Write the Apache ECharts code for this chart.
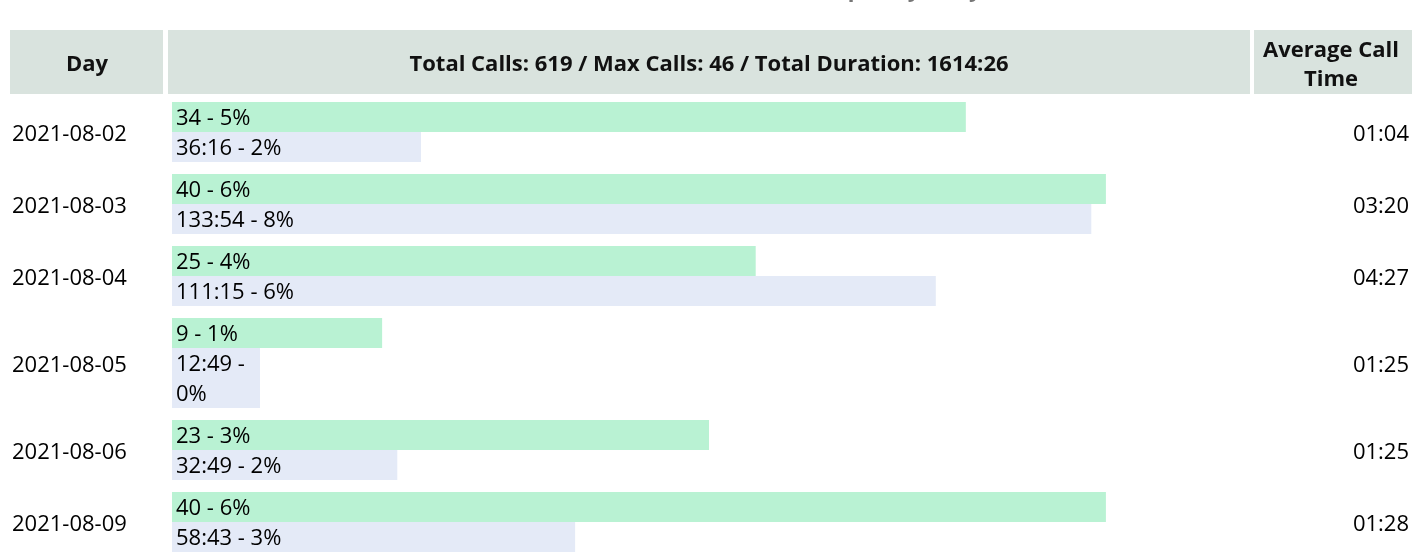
<!DOCTYPE html>
<html><head><meta charset="utf-8">
<script src="https://cdn.jsdelivr.net/npm/echarts@6/dist/echarts.min.js"></script>
<style>html,body{margin:0;padding:0;background:#fff}#c{width:1412px;height:556px}</style>
</head><body><div id="c"></div>
<script>
// ---- data ----
const titleText = 'Call Frequency Daily';
const headerLabels = ['Day', 'Total Calls: 619 / Max Calls: 46 / Total Duration: 1614:26', 'Average Call\nTime'];
const days = ['2021-08-02', '2021-08-03', '2021-08-04', '2021-08-05', '2021-08-06', '2021-08-09'];
const calls = [34, 40, 25, 9, 23, 40];
const callPct = [5, 6, 4, 1, 3, 6];
const durations = ['36:16', '133:54', '111:15', '12:49', '32:49', '58:43'];
const durationPct = [2, 8, 6, 0, 2, 3];
const avgCallTime = ['01:04', '03:20', '04:27', '01:25', '01:25', '01:28'];
const maxCalls = 46;
const maxDuration = '156:26';

// ---- layout / style ----
const FONT_SIZE = 22, FONT_FAMILY = "'Open Sans'", LINE_H = 30, ROW_GAP = 12, PAD = 4, TEXT_DY = 2;
const GRID_LEFT = 172, GRID_W = 1074, GRID_TOP = 102, GRID_H = 454;
const GREEN = '#b9f2d3', BLUE = '#e4eaf7', HEAD = '#d9e3de', INK = '#000';

function toSec(s) { const p = s.split(':').map(Number); return p[0] * 60 + p[1]; }
const durSec = durations.map(toSec);
const maxSec = toSec(maxDuration);

const mctx = document.createElement('canvas').getContext('2d');
mctx.font = FONT_SIZE + 'px ' + FONT_FAMILY;
function wrap(text, maxW) {
  const words = text.split(' '); const lines = []; let cur = '';
  for (const w of words) {
    const t = cur ? cur + ' ' + w : w;
    if (!cur || mctx.measureText(t).width <= maxW) cur = t; else { lines.push(cur); cur = w; }
  }
  if (cur) lines.push(cur);
  return lines;
}
const callLabels = calls.map((v, i) => [v + ' - ' + callPct[i] + '%']);
const durLabels = durations.map((d, i) => wrap(d + ' - ' + durationPct[i] + '%', durSec[i] / maxSec * GRID_W - 2 * PAD));

const tops = []; let acc = 0;
for (let i = 0; i < days.length; i++) {
  tops.push(acc);
  acc += (callLabels[i].length + durLabels[i].length) * LINE_H + ROW_GAP;
}

function barRenderer(color, labels) {
  return function (params, api) {
    const i = params.dataIndex;
    const v = api.value(0), top = api.value(1), n = api.value(2);
    const a = api.coord([0, top]);
    const b = api.coord([v, top + n * LINE_H]);
    return {
      type: 'group', children: [
        { type: 'rect', shape: { x: a[0], y: a[1], width: b[0] - a[0], height: b[1] - a[1] }, style: { fill: color } },
        { type: 'text', style: { x: a[0] + PAD, y: a[1] + TEXT_DY, text: labels[i].join('\n'), fontSize: FONT_SIZE, fontFamily: FONT_FAMILY, fill: INK, verticalAlign: 'top', lineHeight: LINE_H } }
      ]
    };
  };
}

function sideRenderer(params, api) {
  const i = params.dataIndex;
  const top = api.value(1), n = api.value(2);
  const a = api.coord([0, top]);
  const b = api.coord([0, top + n * LINE_H]);
  const cy = (a[1] + b[1]) / 2 + TEXT_DY + 1;
  return {
    type: 'group', children: [
      { type: 'text', style: { x: 12, y: cy, text: days[i], fontSize: FONT_SIZE, fontFamily: FONT_FAMILY, fill: INK, verticalAlign: 'middle', align: 'left' } },
      { type: 'text', style: { x: 1409, y: cy, text: avgCallTime[i], fontSize: FONT_SIZE, fontFamily: FONT_FAMILY, fill: INK, verticalAlign: 'middle', align: 'right' } }
    ]
  };
}

const chart = echarts.init(document.getElementById('c'), null, { renderer: 'canvas' });
const headFont = { fontSize: 22, fontFamily: FONT_FAMILY, fontWeight: 'bold', fill: '#111' };
chart.setOption({
  animation: false,
  backgroundColor: '#fff',
  grid: { left: GRID_LEFT, top: GRID_TOP, width: GRID_W, height: GRID_H },
  xAxis: [
    { type: 'value', min: 0, max: maxCalls, show: false },
    { type: 'value', min: 0, max: maxSec, show: false }
  ],
  yAxis: { type: 'value', min: 0, max: GRID_H, inverse: true, show: false },
  graphic: [
    { type: 'text', left: 759, top: -20, style: { text: titleText, fontSize: 22, fontFamily: FONT_FAMILY, fontWeight: 'bold', fill: '#777' } },
    { type: 'rect', shape: { x: 10, y: 30, width: 153, height: 64 }, style: { fill: HEAD } },
    { type: 'rect', shape: { x: 168, y: 30, width: 1082, height: 64 }, style: { fill: HEAD } },
    { type: 'rect', shape: { x: 1254, y: 30, width: 160, height: 64 }, style: { fill: HEAD } },
    { type: 'text', x: 87, y: 65, style: Object.assign({ text: headerLabels[0], align: 'center', verticalAlign: 'middle' }, headFont) },
    { type: 'text', x: 709, y: 65, style: Object.assign({ text: headerLabels[1], align: 'center', verticalAlign: 'middle' }, headFont) },
    { type: 'text', x: 1331, y: 65, style: Object.assign({ text: headerLabels[2], align: 'center', verticalAlign: 'middle', lineHeight: 29 }, headFont) }
  ],
  series: [
    { type: 'custom', xAxisIndex: 0, renderItem: barRenderer(GREEN, callLabels), data: calls.map((v, i) => [v, tops[i], callLabels[i].length]) },
    { type: 'custom', xAxisIndex: 1, renderItem: barRenderer(BLUE, durLabels), data: durSec.map((v, i) => [v, tops[i] + callLabels[i].length * LINE_H, durLabels[i].length]) },
    { type: 'custom', xAxisIndex: 0, renderItem: sideRenderer, data: days.map((d, i) => [0, tops[i], callLabels[i].length + durLabels[i].length]) }
  ]
});
</script></body></html>
